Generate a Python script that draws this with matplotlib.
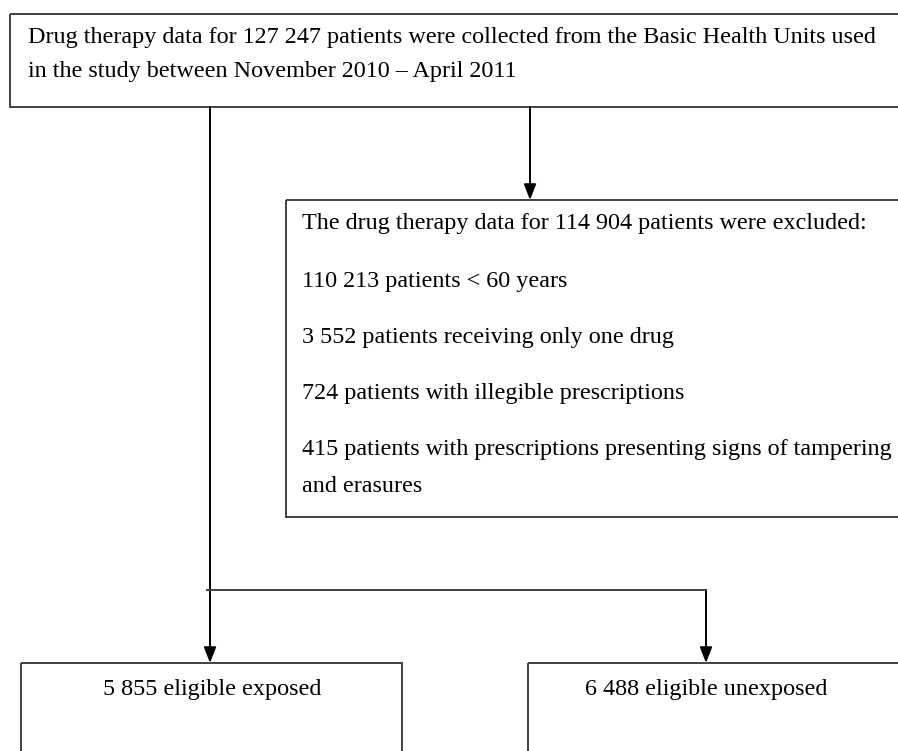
import matplotlib
matplotlib.use("Agg")
import matplotlib.pyplot as plt
from matplotlib.patches import Rectangle, FancyArrowPatch

# ---- content ----
source_lines = [
    "Drug therapy data for 127 247 patients were collected from the Basic Health Units used",
    "in the study between November 2010 \u2013 April 2011",
]
excluded_lines = [
    "The drug therapy data for 114 904 patients were excluded:",
    "110 213 patients < 60 years",
    "3 552 patients receiving only one drug",
    "724 patients with illegible prescriptions",
    "415 patients with prescriptions presenting signs of tampering",
    "and erasures",
]
group_labels = ["5 855 eligible exposed", "6 488 eligible unexposed"]

W, H = 898, 751
fig = plt.figure(figsize=(W / 100, H / 100), dpi=100)
ax = fig.add_axes([0, 0, 1, 1])
ax.set_xlim(0, W)
ax.set_ylim(H, 0)
ax.axis("off")

FONT = dict(family="Liberation Serif", fontsize=17.4, color="black")
EDGE = "#404040"
LW = 1.4

def box(x0, y0, x1, y1):
    ax.add_patch(Rectangle((x0, y0), x1 - x0, y1 - y0, fill=False,
                           edgecolor=EDGE, linewidth=LW, clip_on=True))

def arrow(x, y0, y1):
    ax.add_patch(FancyArrowPatch((x, y0), (x, y1), arrowstyle="-|>,head_length=0.9,head_width=0.35",
                                 mutation_scale=10.5, color="black", linewidth=1.4,
                                 shrinkA=0, shrinkB=0))

# top box
box(10, 14, 910, 107)
top_y = [37, 72]
for t, y in zip(source_lines, top_y):
    ax.text(28, y, t, ha="left", va="center", **FONT)

# exclusion box
box(286, 200, 910, 517)
exc_y = [224, 281, 337, 393, 449, 486]
for t, y in zip(excluded_lines, exc_y):
    ax.text(302, y, t, ha="left", va="center", **FONT)

# arrows
arrow(530, 107, 200)
arrow(210, 107, 663)
ax.plot([207, 706], [590, 590], color=EDGE, linewidth=LW)
arrow(706, 590, 663)

# bottom boxes
box(21, 663, 402, 760)
box(528, 663, 910, 760)
ax.text(212, 689, group_labels[0], ha="center", va="center", **FONT)
ax.text(706, 689, group_labels[1], ha="center", va="center", **FONT)

fig.savefig("out.png", dpi=100, facecolor="white")
